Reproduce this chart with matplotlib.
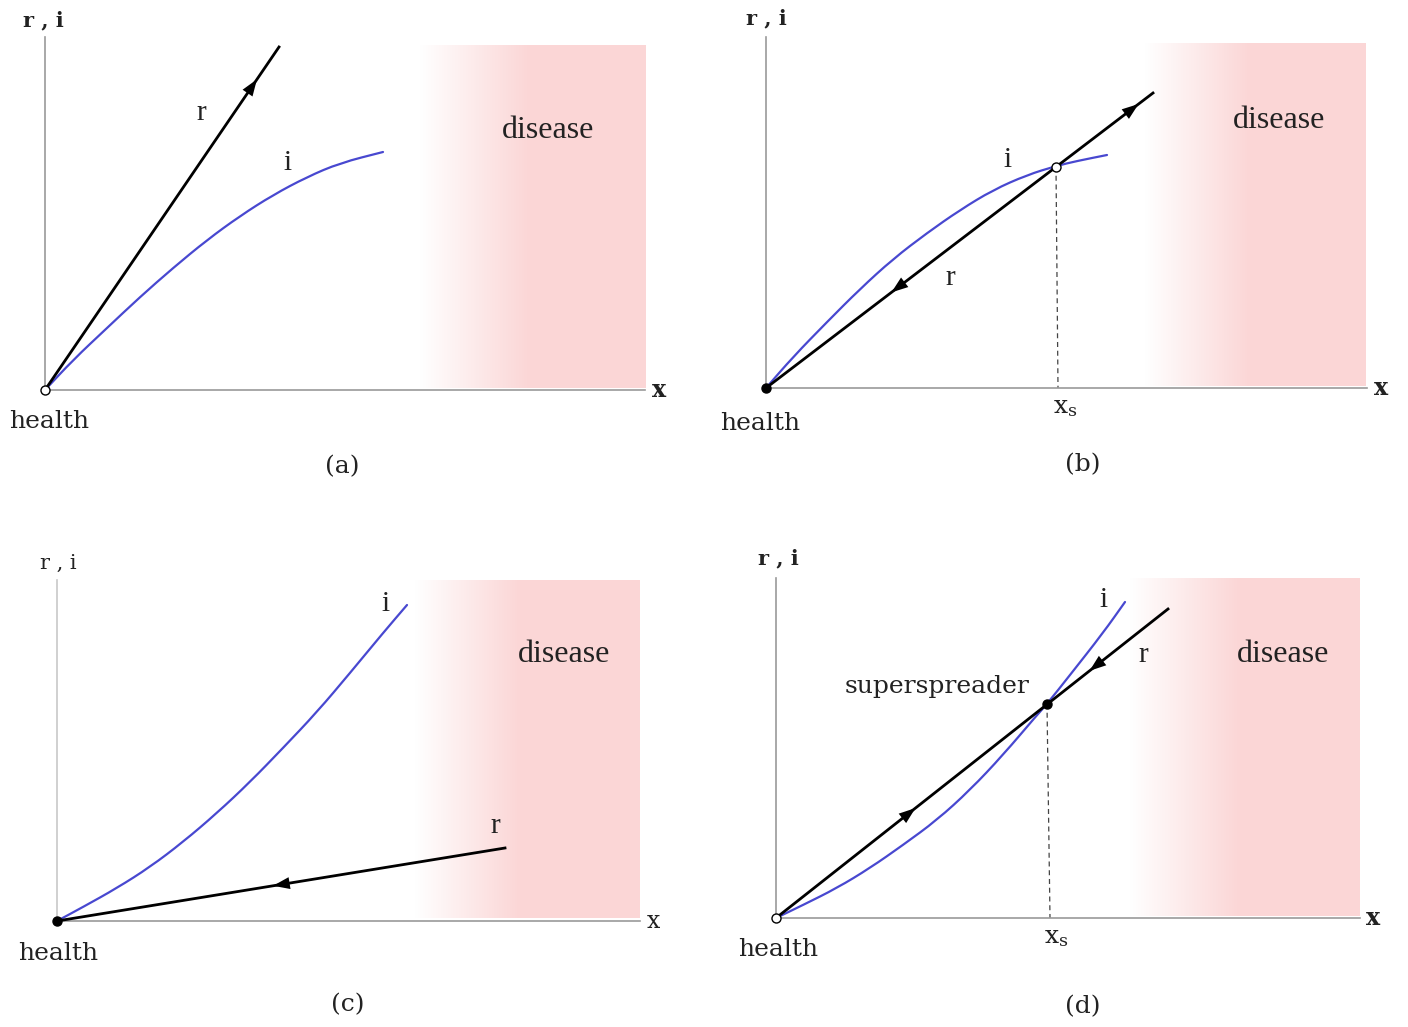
import numpy as np
import matplotlib.pyplot as plt
from matplotlib.colors import LinearSegmentedColormap
from matplotlib.path import Path
from matplotlib.patches import PathPatch

plt.rcParams['mathtext.fontset'] = 'dejavuserif'

a_r_x = [0, 2.34]
a_r_y = [0, 3.43]
a_i_x = [0, 0.28, 0.62, 0.95, 1.28, 1.62, 1.95, 2.28, 2.62, 2.95, 3.38]
a_i_y = [0, 0.30, 0.62, 0.93, 1.22, 1.50, 1.74, 1.95, 2.13, 2.27, 2.38]

b_r_x = [0, 3.87]
b_r_y = [0, 2.95]
b_i_x = [0, 0.27, 0.61, 0.94, 1.27, 1.61, 1.94, 2.27, 2.61, 2.90, 3.11, 3.41]
b_i_y = [0, 0.31, 0.66, 0.99, 1.29, 1.55, 1.78, 1.98, 2.13, 2.22, 2.27, 2.33]
b_xs = (2.90, 2.21)

c_r_x = [0, 4.48]
c_r_y = [0, 0.73]
c_i_x = [0, 0.26, 0.60, 0.93, 1.26, 1.60, 1.93, 2.26, 2.60, 2.93, 3.26, 3.50]
c_i_y = [0, 0.14, 0.33, 0.54, 0.79, 1.08, 1.39, 1.73, 2.09, 2.48, 2.88, 3.16]

d_r_x = [0, 3.92]
d_r_y = [0, 3.09]
d_i_x = [0, 0.27, 0.61, 0.94, 1.27, 1.61, 1.94, 2.27, 2.61, 2.71, 2.94, 3.27, 3.49]
d_i_y = [0, 0.13, 0.30, 0.50, 0.73, 0.98, 1.28, 1.63, 2.03, 2.14, 2.43, 2.85, 3.16]
d_xs = (2.71, 2.14)

FIG_W, FIG_H = 1408, 1027
PINK = '#fbd6d6'
BLUE = '#4848d0'
AXCOL = '#9a9a9a'
TXT = '#222222'

fig = plt.figure(figsize=(FIG_W / 100, FIG_H / 100), dpi=100)
fig.patch.set_facecolor('white')

pink_cmap = LinearSegmentedColormap.from_list('pinkfade', ['#ffffff', PINK])


def make_axes(ox, oy, w, h, ycol=AXCOL):
    ax = fig.add_axes([ox / FIG_W, (FIG_H - oy) / FIG_H, w / FIG_W, h / FIG_H])
    ax.set_xlim(0, w / 100)
    ax.set_ylim(0, h / 100)
    ax.set_autoscale_on(False)
    ax.patch.set_alpha(0)
    for s in ['top', 'right']:
        ax.spines[s].set_visible(False)
    ax.spines['bottom'].set_color(AXCOL)
    ax.spines['left'].set_color(ycol)
    ax.spines['bottom'].set_linewidth(1.2)
    ax.spines['left'].set_linewidth(1.2)
    ax.set_xticks([])
    ax.set_yticks([])
    return ax


def disease_band(ax, x0, xg, x1, y0, y1, tx, ty):
    xl, yl = ax.get_xlim(), ax.get_ylim()
    grad = np.linspace(0, 1, 256).reshape(1, -1)
    ax.imshow(grad, extent=[x0, xg, y0, y1], cmap=pink_cmap, aspect='auto', zorder=0)
    ax.fill_between([xg, x1], y0, y1, color=PINK, lw=0, zorder=0)
    ax.set_xlim(xl)
    ax.set_ylim(yl)
    ax.text(tx, ty, 'disease', fontsize=23, family='Liberation Serif', color=TXT,
            ha='center', va='center')


def smooth_line(ax, xs, ys, color, lw, zorder=3):
    # quadratic segments through the midpoints, read points as control points
    pts = np.column_stack([xs, ys])
    verts = [pts[0]]
    codes = [Path.MOVETO]
    if len(pts) > 2:
        mids = (pts[:-1] + pts[1:]) / 2
        verts.append(mids[0])
        codes.append(Path.LINETO)
        for k in range(1, len(pts) - 1):
            verts += [pts[k], mids[k]]
            codes += [Path.CURVE3, Path.CURVE3]
    verts.append(pts[-1])
    codes.append(Path.LINETO)
    ax.add_patch(PathPatch(Path(verts, codes), fill=False, edgecolor=color, lw=lw,
                           clip_on=False, zorder=zorder, capstyle='round'))


def arrow(ax, x, y, ux, uy):
    n = np.hypot(ux, uy)
    ux, uy = ux / n, uy / n
    ax.annotate('', xy=(x + 0.07 * ux, y + 0.07 * uy), xytext=(x - 0.07 * ux, y - 0.07 * uy),
                arrowprops=dict(arrowstyle='-|>,head_length=1.0,head_width=0.36',
                                color='black', lw=0, shrinkA=0, shrinkB=0,
                                mutation_scale=12),
                annotation_clip=False, zorder=6)


def labels(ax, ri_xy, x_xy, health_xy, tag, tag_xy, bold=True):
    ax.text(*ri_xy, 'r , i', fontsize=15, family='DejaVu Serif',
            weight='bold' if bold else 'normal', color=TXT, ha='center', va='center')
    ax.text(*x_xy, 'x', fontsize=17, family='DejaVu Serif',
            weight='bold' if bold else 'normal', color=TXT, ha='center', va='center')
    ax.text(*health_xy, 'health', fontsize=18, family='DejaVu Serif', color=TXT,
            ha='center', va='center')
    ax.text(*tag_xy, tag, fontsize=18, family='DejaVu Serif', color=TXT,
            ha='center', va='center')


def curve_label(ax, x, y, s):
    ax.text(x, y, s, fontsize=21, family='Liberation Serif', color=TXT,
            ha='center', va='center')


def dot(ax, x, y, filled):
    ax.plot([x], [y], 'o', ms=6.5, mfc='black' if filled else 'white', mec='black',
            mew=1.0, clip_on=False, zorder=7)


def on_r(rx, ry, x):
    return x * ry[1] / rx[1]


# ---- (a) ----
ax = make_axes(45, 390, 600, 353)
disease_band(ax, 3.75, 4.85, 6.02, 0.02, 3.45, 5.03, 2.59)
smooth_line(ax, a_i_x, a_i_y, BLUE, 1.6)
ax.plot(a_r_x, a_r_y, color='black', lw=2.0, clip_on=False, zorder=4)
arrow(ax, 2.08, on_r(a_r_x, a_r_y, 2.08), a_r_x[1], a_r_y[1])
curve_label(ax, 1.56, 2.77, 'r')
curve_label(ax, 2.42, 2.27, 'i')
dot(ax, 0, 0, False)
labels(ax, (-0.02, 3.70), (6.14, 0), (0.04, -0.31), '(a)', (2.97, -0.77))

# ---- (b) ----
ax = make_axes(766, 388, 601, 351)
disease_band(ax, 3.79, 4.84, 6.00, 0.02, 3.45, 5.13, 2.67)
smooth_line(ax, b_i_x, b_i_y, BLUE, 1.6)
ax.plot(b_r_x, b_r_y, color='black', lw=2.0, clip_on=False, zorder=4)
ax.plot([b_xs[0], b_xs[0] + 0.02], [b_xs[1], 0], color='#444444', lw=0.9,
        ls=(0, (4, 3)), zorder=2)
arrow(ax, 3.67, on_r(b_r_x, b_r_y, 3.67), b_r_x[1], b_r_y[1])
arrow(ax, 1.31, on_r(b_r_x, b_r_y, 1.31), -b_r_x[1], -b_r_y[1])
curve_label(ax, 1.84, 1.10, 'r')
curve_label(ax, 2.42, 2.28, 'i')
ax.text(2.99, -0.19, r'$\mathrm{x_s}$', fontsize=18, color=TXT, ha='center', va='center')
dot(ax, 0, 0, True)
dot(ax, b_xs[0], b_xs[1], False)
labels(ax, (0.0, 3.70), (6.15, 0), (-0.06, -0.35), '(b)', (3.17, -0.77))

# ---- (c) ----
ax = make_axes(57, 921, 583, 341, ycol='#c8c8c8')
disease_band(ax, 3.58, 4.63, 5.83, 0.03, 3.43, 5.07, 2.66)
smooth_line(ax, c_i_x, c_i_y, BLUE, 1.6)
ax.plot(c_r_x, c_r_y, color='black', lw=2.0, clip_on=False, zorder=4)
arrow(ax, 2.23, on_r(c_r_x, c_r_y, 2.23), -c_r_x[1], -c_r_y[1])
curve_label(ax, 4.38, 0.95, 'r')
curve_label(ax, 3.28, 3.17, 'i')
dot(ax, 0, 0, True)
labels(ax, (0.01, 3.58), (5.96, 0), (0.01, -0.32), '(c)', (2.91, -0.84), bold=False)

# ---- (d) ----
ax = make_axes(776, 918, 584, 340)
disease_band(ax, 3.54, 4.64, 5.84, 0.02, 3.42, 5.07, 2.63)
smooth_line(ax, d_i_x, d_i_y, BLUE, 1.6)
ax.plot(d_r_x, d_r_y, color='black', lw=2.0, clip_on=False, zorder=4)
ax.plot([d_xs[0], d_xs[0] + 0.03], [d_xs[1], 0], color='#444444', lw=0.9,
        ls=(0, (4, 3)), zorder=2)
arrow(ax, 1.34, on_r(d_r_x, d_r_y, 1.34), d_r_x[1], d_r_y[1])
arrow(ax, 3.19, on_r(d_r_x, d_r_y, 3.19), -d_r_x[1], -d_r_y[1])
curve_label(ax, 3.67, 2.63, 'r')
curve_label(ax, 3.28, 3.18, 'i')
ax.text(1.61, 2.32, 'superspreader', fontsize=18, family='DejaVu Serif', color=TXT,
        ha='center', va='center')
ax.text(2.80, -0.19, r'$\mathrm{x_s}$', fontsize=18, color=TXT, ha='center', va='center')
dot(ax, 0, 0, False)
dot(ax, d_xs[0], d_xs[1], True)
labels(ax, (0.02, 3.60), (5.97, 0), (0.02, -0.32), '(d)', (3.07, -0.89))

fig.savefig('out.png', dpi=100)
